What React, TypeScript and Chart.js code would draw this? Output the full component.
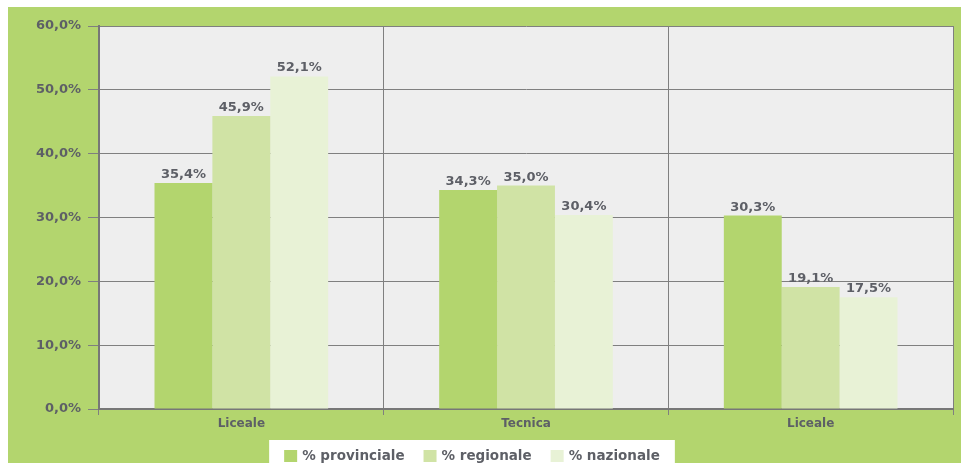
import { useEffect, useRef } from 'react';
import { Chart, registerables } from 'chart.js';

Chart.register(...registerables);

const categories = ['Liceale', 'Tecnica', 'Liceale'];
const seriesLabels = ['% provinciale', '% regionale', '% nazionale'];
const provinciale = [35.4, 34.3, 30.3];
const regionale = [45.9, 35.0, 19.1];
const nazionale = [52.1, 30.4, 17.5];
const seriesColors = ['#b3d56e', '#d0e3a5', '#e8f2d6'];
const yMin = 0;
const yMax = 60;
const yStep = 10;

const BG = '#b3d56e';
const PLOT_BG = '#eeeeee';
const TEXT = '#5d5f66';
const FONT = "'DejaVu Sans'";

const fmt = (v: number) => v.toFixed(1).replace('.', ',') + '%';

const bgPlugin = {
  id: 'bgPlugin',
  beforeDraw(chart: any) {
    const { ctx, chartArea } = chart;
    ctx.save();
    ctx.fillStyle = BG;
    ctx.fillRect(0, 0, chart.width, chart.height);
    ctx.fillStyle = PLOT_BG;
    ctx.fillRect(chartArea.left, chartArea.top, chartArea.right - chartArea.left, chartArea.bottom - chartArea.top);
    ctx.restore();
  },
};

const valueLabels = {
  id: 'valueLabels',
  afterDatasetsDraw(chart: any) {
    const { ctx } = chart;
    ctx.save();
    ctx.font = `bold 13px ${FONT}`;
    ctx.fillStyle = TEXT;
    ctx.textAlign = 'center';
    ctx.textBaseline = 'alphabetic';
    chart.data.datasets.forEach((ds: any, i: number) => {
      const meta = chart.getDatasetMeta(i);
      meta.data.forEach((el: any, j: number) => {
        ctx.fillText(fmt(ds.data[j]), el.x, el.y - 5);
      });
    });
    ctx.restore();
  },
};

const boxLegend = {
  id: 'boxLegend',
  afterDraw(chart: any) {
    const { ctx } = chart;
    ctx.save();
    ctx.font = `bold 13.5px ${FONT}`;
    const box = 13;
    const gapBoxText = 5;
    const gapItems = 19;
    const padX = 15;
    const items = chart.data.datasets.map((ds: any) => ({
      label: ds.label,
      color: ds.backgroundColor,
      w: ctx.measureText(ds.label).width,
    }));
    let total = 0;
    items.forEach((it: any, i: number) => {
      total += box + gapBoxText + it.w + (i > 0 ? gapItems : 0);
    });
    const centerX = 464;
    const boxLeft = centerX - total / 2 - padX;
    const boxTop = 433;
    ctx.fillStyle = '#ffffff';
    ctx.fillRect(boxLeft, boxTop, total + padX * 2, chart.height - boxTop);
    let x = boxLeft + padX;
    ctx.textBaseline = 'middle';
    ctx.textAlign = 'left';
    items.forEach((it: any) => {
      ctx.fillStyle = it.color;
      ctx.fillRect(x, 443, box, 12);
      ctx.fillStyle = TEXT;
      ctx.fillText(it.label, x + box + gapBoxText, 449.5);
      x += box + gapBoxText + it.w + gapItems;
    });
    ctx.restore();
  },
};

export default function App() {
  const ref = useRef<HTMLCanvasElement | null>(null);

  useEffect(() => {
    if (!ref.current) return;
    const seriesData = [provinciale, regionale, nazionale];
    const chart = new Chart(ref.current, {
      type: 'bar',
      data: {
        labels: categories,
        datasets: seriesLabels.map((label, i) => ({
          label,
          data: seriesData[i],
          backgroundColor: seriesColors[i],
          borderWidth: 0,
          categoryPercentage: 0.61,
          barPercentage: 1,
        })),
      },
      options: {
        responsive: false,
        animation: false,
        layout: { padding: { top: 19, right: 8, left: 0, bottom: 0 } },
        plugins: {
          legend: { display: false },
          tooltip: { enabled: false },
          title: { display: false },
        },
        scales: {
          x: {
            afterFit(scale: any) {
              scale.height = 54;
            },
            grid: {
              offset: true,
              color: '#7f7f7f',
              lineWidth: 1,
              tickLength: 6,
              drawOnChartArea: true,
            },
            border: { color: '#777777', width: 2 },
            ticks: {
              color: TEXT,
              font: { family: FONT, weight: 'bold', size: 12 },
              padding: 2,
            },
          },
          y: {
            min: yMin,
            max: yMax,
            afterFit(scale: any) {
              scale.width = 91;
            },
            grid: {
              color: '#7f7f7f',
              lineWidth: 1,
              tickLength: 11,
            },
            border: { color: '#777777', width: 2 },
            ticks: {
              stepSize: yStep,
              color: TEXT,
              font: { family: FONT, weight: 'bold', size: 13 },
              padding: 7,
              callback: (v: any) => fmt(Number(v)),
            },
          },
        },
      },
      plugins: [bgPlugin, valueLabels, boxLegend],
    });
    return () => chart.destroy();
  }, []);

  return (
    <div style={{ position: 'fixed', left: 8, top: 7, width: 953, height: 456 }}>
      <canvas ref={ref} width={953} height={456} style={{ display: 'block' }} />
    </div>
  );
}
